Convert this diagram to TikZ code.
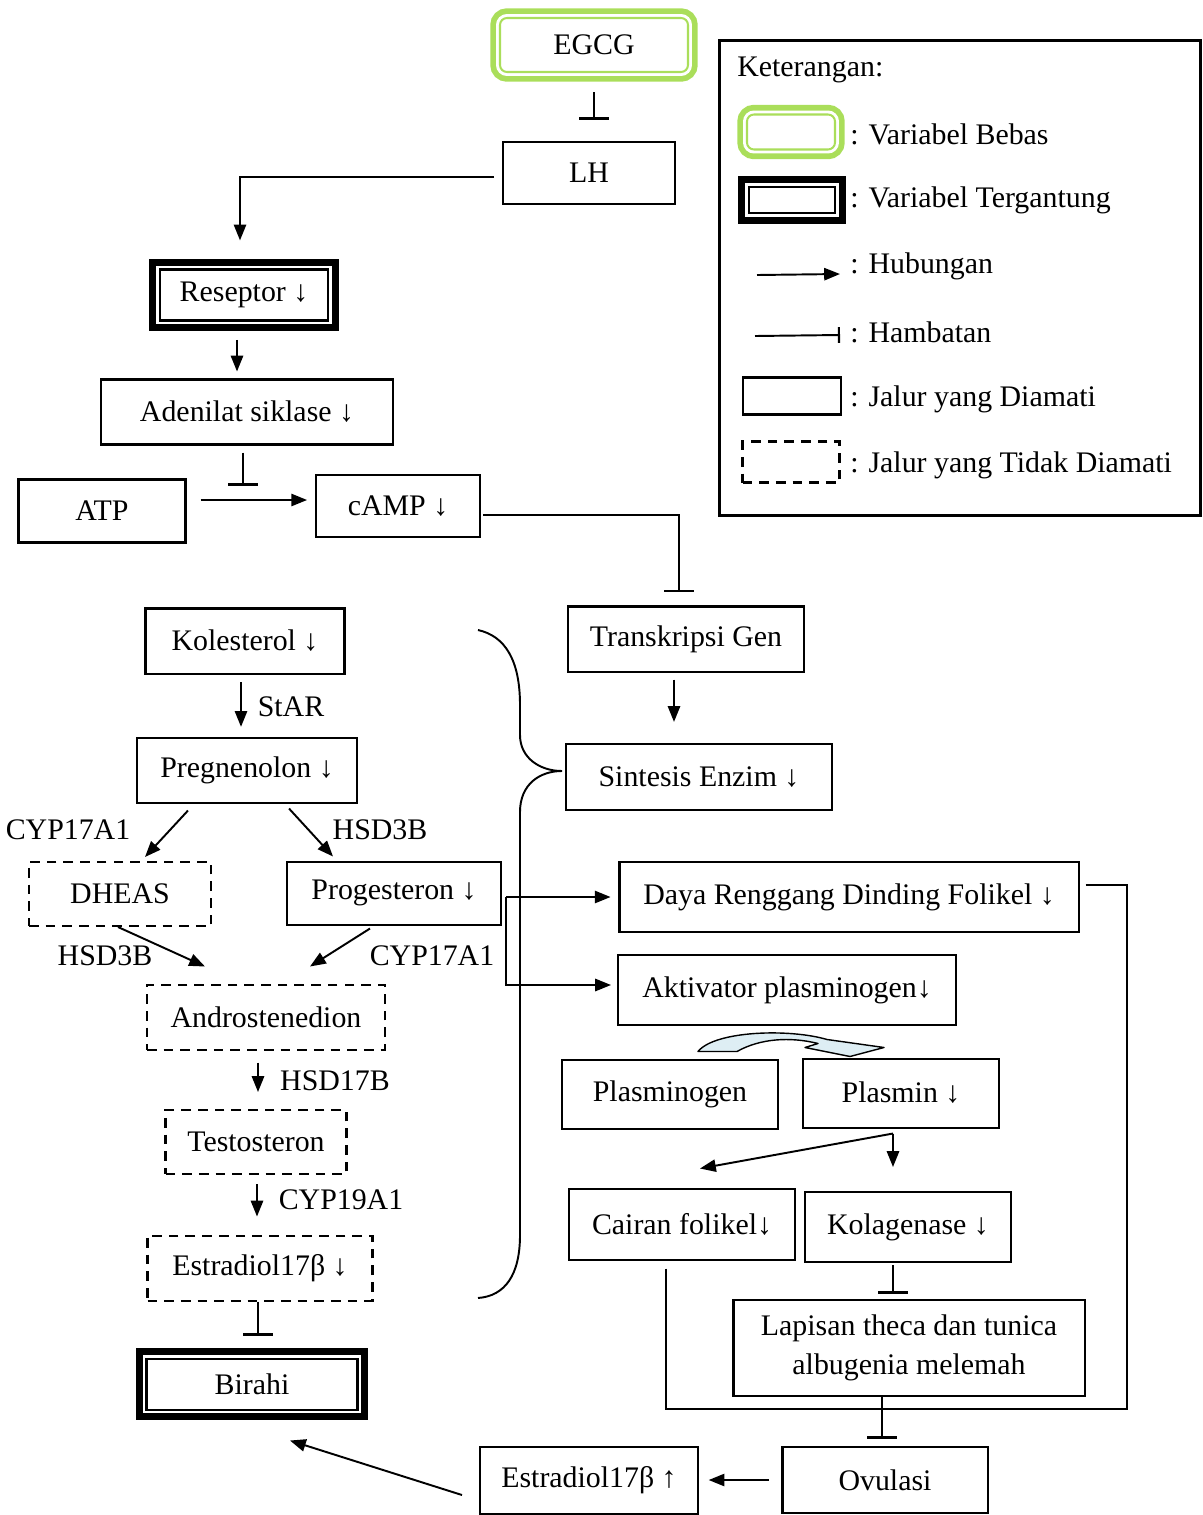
\documentclass[tikz,border=0pt]{standalone}
\usepackage{fontspec}
\setmainfont{Liberation Serif}
\usetikzlibrary{arrows.meta,calc}
\definecolor{lgreen}{RGB}{170,222,90}
\definecolor{lblue}{RGB}{222,238,244}

\begin{document}
\begin{tikzpicture}[x=0.02cm, y=-0.02cm,
  font=\fontsize{17}{22}\selectfont,
  sz/.style 2 args={minimum width=#1*0.02cm, minimum height=#2*0.02cm},
  box/.style={draw, line width=1.15pt, fill=white, inner sep=2pt, align=center},
  dbox/.style={box, dash pattern=on 5.5pt off 4pt},
  bebas/.style={box, draw=lgreen, rounded corners=4pt, preaction={draw=lgreen, line width=11pt}, preaction={draw=white, line width=4.5pt}},
  terikat/.style={box, preaction={draw, line width=12.4pt}, preaction={draw=white, line width=4.4pt}},
  lbl/.style={inner sep=0pt},
  conn/.style={->, line width=1.1pt},
  inh/.style={-{Bar[width=17pt, line width=1.5pt]}, line width=1.1pt},
  >={Triangle[length=9pt, width=7pt]}]
\useasboundingbox (0,0) rectangle (1203,1515);
\node[bebas, sz={188}{54}] (egcg) at (594,45) {EGCG};
\node[box, sz={172}{62}] (lh) at (589,173) {LH};
\node[terikat, sz={168}{51}] (res) at (244,295) {Reseptor ↓};
\node[box, sz={292}{65}] (aden) at (247,412) {Adenilat siklase ↓};
\node[box, sz={167}{63}] (atp) at (102,511) {ATP};
\node[box, sz={164}{62}] (camp) at (398,506) {cAMP ↓};
\node[box, sz={236}{65}] (trans) at (686,639) {Transkripsi Gen};
\node[box, sz={266}{66}] (sint) at (699,777) {Sintesis Enzim ↓};
\node[box, sz={199}{65}] (kol) at (245,641) {Kolesterol ↓};
\node[box, sz={220}{65}] (preg) at (247,770) {Pregnenolon ↓};
\node[dbox, sz={182}{64}] (dheas) at (120,894) {DHEAS};
\node[box, sz={214}{63}] (prog) at (394,893) {Progesteron ↓};
\node[dbox, sz={238}{65}] (andro) at (266,1017) {Androstenedion};
\node[dbox, sz={181}{64}] (testo) at (256,1142) {Testosteron};
\node[dbox, sz={225}{65}] (estr) at (260,1268) {Estradiol17β ↓};
\node[terikat, sz={211}{51}] (birahi) at (252,1384) {Birahi};
\node[box, sz={459}{70}] (daya) at (849,897) {Daya Renggang Dinding Folikel ↓};
\node[box, sz={338}{70}] (akt) at (787,990) {Aktivator plasminogen↓};
\node[box, sz={216}{69}] (plgen) at (670,1094) {Plasminogen};
\node[box, sz={196}{69}] (plasmin) at (901,1093) {Plasmin ↓};
\node[box, sz={226}{71}] (cair) at (682,1224) {Cairan folikel↓};
\node[box, sz={206}{70}] (kolag) at (908,1227) {Kolagenase ↓};
\node[box, sz={351}{96}] (lap) at (909,1348) {Lapisan theca dan tunica\\albugenia melemah};
\node[box, sz={205}{66}] (ovu) at (885,1480) {Ovulasi};
\node[box, sz={218}{67}] (estup) at (589,1480) {Estradiol17β ↑};
\node[lbl] (star) at (291,707) {StAR};
\node[lbl] (cyp1) at (68,830) {CYP17A1};
\node[lbl] (hsd1) at (380,830) {HSD3B};
\node[lbl] (hsd2) at (105,956) {HSD3B};
\node[lbl] (cyp2) at (432,956) {CYP17A1};
\node[lbl] (hsd17) at (335,1081) {HSD17B};
\node[lbl] (cyp19) at (341,1200) {CYP19A1};
\draw[inh, shorten <=11pt, shorten >=12pt] (egcg.south) -- (egcg.south |- lh.north);
\draw[conn, shorten <=4.5pt, shorten >=16pt] ($(lh.west)+(0,4)$) -| ($(res.north)+(-4,0)$);
\draw[conn, shorten <=10.5pt, shorten >=4pt] ($(res.south)+(-7,0)$) -- ($(aden.north)+(-10,0)$);
\draw[conn, shorten <=8pt, shorten >=4.5pt] ($(atp.east)+(0,-11)$) -- ($(camp.west)+(0,-6)$) coordinate[pos=0.44] (conv);
\draw[inh, shorten <=4pt, shorten >=8pt] (aden.south -| conv) -- (conv);
\draw[inh, shorten >=7.4pt] ($(camp.east)+(2,9)$) -| ($(trans.north)+(-7,0)$);
\draw[conn, shorten <=4pt, shorten >=12pt] ($(trans.south)+(-12,0)$) -- ($(sint.north)+(-25,0)$);
\draw[line width=1.1pt] (478,630) .. controls (505,636) and (520,660) .. (520,705) -- (520,735)
  .. controls (520,758) and (540,771) .. (562,771) .. controls (540,771) and (520,784) .. (520,812)
  -- (520,1235) .. controls (520,1275) and (505,1296) .. (478,1298);
\draw[conn, shorten <=4.5pt, shorten >=5.5pt] ($(kol.south)+(-4,0)$) -- ($(preg.north)+(-6,0)$);
\draw[conn] ($(preg.south)+(-59,7)$) -- ($(dheas.north)+(25,-4)$);
\draw[conn] ($(preg.south)+(42,5)$) -- ($(prog.north)+(-61,-4)$);
\draw[conn] ($(dheas.south)+(-2,0)$) -- ($(andro.north)+(-61,-17)$);
\draw[conn] ($(prog.south)+(-24,3)$) -- ($(andro.north)+(44,-17)$);
\draw[conn] ($(andro.south)+(-8,12)$) -- ($(testo.north)+(2,-17)$);
\draw[conn] ($(testo.south)+(1,9)$) -- ($(estr.north)+(-3,-18)$);
\draw[inh] ($(estr.south)+(-2,0)$) -- ($(birahi.north)+(6,-22)$);
\coordinate (br) at ($(prog.east)+(4,4)$);
\draw[conn, shorten >=4.5pt] (br) -- (br -| daya.west);
\draw[conn, shorten >=3.4pt] (br) |- ($(akt.west)+(0,-5)$);
\draw[shift={(plgen.north)}, fill=lblue, line width=0.8pt, line join=round] (28,-7)
  .. controls (45,-28) and (120,-30) .. (157,-19) -- (214,-11) -- (180,-2) -- (135,-11) -- (148,-15)
  .. controls (120,-22) and (90,-20) .. (67,-7) -- cycle;
\draw[conn] ($(plasmin.south)+(-8,5)$) -- ($(cair.north)+(18,-19)$);
\draw[conn] ($(plasmin.south)+(-8,5)$) -- ($(kolag.north)+(-15,-24)$);
\draw[inh] ($(kolag.south)+(-15,2)$) -- ($(lap.north)+(-16,-5)$);
\coordinate (jn) at ($(ovu.north)+(-3,-37)$);
\draw[line width=1.1pt] ($(daya.east)+(6,-12)$) -| ($(jn)+(245,0)$) -- (jn);
\draw[line width=1.1pt] ($(cair.south)+(-16,8)$) |- (jn);
\draw[line width=1.1pt] (lap.south -| jn) -- (jn);
\draw[inh, shorten >=4pt] (jn) -- (ovu.north -| jn);
\draw[conn, shorten <=7pt, shorten >=5.5pt] (ovu.west) -- (estup.east);
\draw[conn] ($(estup.west)+(-17,15)$) -- ($(birahi.south)+(38,30)$);
\node[draw, line width=1.6pt, sz={481}{475}, anchor=north west] (leg) at (718,39) {};
\node[lbl, anchor=west] (ket) at (737,70) {Keterangan:};
\node[bebas, sz={88}{35}] (k1) at (791,132) {};
\node[lbl, anchor=west] (t1) at (850,134) {: Variabel Bebas};
\node[terikat, sz={86}{26}] (k2) at (792,200) {};
\node[lbl, anchor=west] (t2) at (850,200) {: Variabel Tergantung};
\coordinate (k3a) at (757,275);
\coordinate (k3b) at (840,274);
\draw[conn] (k3a) -- (k3b);
\node[lbl, anchor=west] (t3) at (850,266) {: Hubungan};
\coordinate (k4a) at (755,336);
\coordinate (k4b) at (840,335);
\draw[-{Bar[width=9pt, line width=1.2pt]}, line width=1.1pt] (k4a) -- (k4b);
\node[lbl, anchor=west] (t4) at (850,332) {: Hambatan};
\node[box, sz={98}{37}] (k5) at (792,396) {};
\node[lbl, anchor=west] (t5) at (850,399) {: Jalur yang Diamati};
\node[dbox, sz={97}{41}] (k6) at (791,462) {};
\node[lbl, anchor=west] (t6) at (850,465) {: Jalur yang Tidak Diamati};
\end{tikzpicture}
\end{document}
